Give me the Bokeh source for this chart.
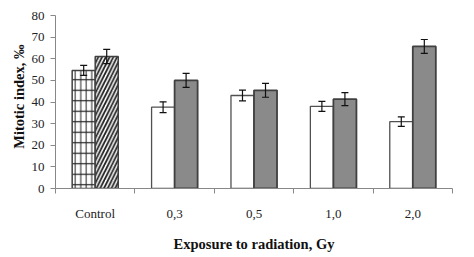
from bokeh.plotting import figure
from bokeh.models import FixedTicker, ColumnDataSource, Whisker, Range1d, Title
from bokeh.embed import file_html
from bokeh.resources import INLINE

categories = ["Control", "0,3", "0,5", "1,0", "2,0"]
series_a = [54.6, 37.6, 43.0, 38.0, 30.9]
err_a = [2.3, 2.5, 2.5, 2.3, 2.2]
series_b = [61.0, 50.0, 45.4, 41.3, 65.7]
err_b = [3.3, 3.2, 3.2, 3.0, 3.2]
y_ticks = [0, 10, 20, 30, 40, 50, 60, 70, 80]

BW = 0.29
centers = [i + 0.5 for i in range(len(categories))]
xa = [c - BW / 2 for c in centers]
xb = [c + BW / 2 for c in centers]

p = figure(width=474, height=257, output_backend="svg", toolbar_location=None,
           x_range=Range1d(0, len(categories)), y_range=Range1d(0, 80),
           min_border_left=55, min_border_right=22, min_border_top=15, min_border_bottom=69)
p.outline_line_color = None
p.grid.grid_line_color = None
p.background_fill_color = "white"
p.border_fill_color = "white"

OUT = "#404040"
# control bars (hatched)
p.vbar(x=[xa[0]], top=[series_a[0]], width=BW, fill_color="white", line_color=None,
       hatch_pattern="vertical_line", hatch_scale=5.5, hatch_color="#222222", hatch_weight=1)
p.vbar(x=[xa[0]], top=[series_a[0]], width=BW, fill_alpha=0, line_color=OUT, line_width=1.5,
       hatch_pattern="horizontal_line", hatch_scale=10.5, hatch_color="#222222", hatch_weight=1.2)
p.vbar(x=[xb[0]], top=[series_b[0]], width=BW, fill_color="white", line_color=OUT, line_width=1.5,
       hatch_pattern="right_diagonal_line", hatch_scale=7.5, hatch_color="#222222", hatch_weight=1.8)
# irradiated bars
p.vbar(x=xa[1:], top=series_a[1:], width=BW, fill_color="white", line_color="#505050", line_width=1.3)
p.vbar(x=xb[1:], top=series_b[1:], width=BW, fill_color="#8a8a8a", line_color=OUT, line_width=1.8)

src = ColumnDataSource(dict(
    x=xa + xb,
    lo=[v - e for v, e in zip(series_a, err_a)] + [v - e for v, e in zip(series_b, err_b)],
    hi=[v + e for v, e in zip(series_a, err_a)] + [v + e for v, e in zip(series_b, err_b)],
))
w = Whisker(base="x", lower="lo", upper="hi", source=src, line_color="#111111", line_width=1.2,
            level="overlay")
for h in (w.upper_head, w.lower_head):
    h.size = 7
    h.line_color = "#111111"
    h.line_width = 1.2
p.add_layout(w)

xt = FixedTicker(ticks=centers, minor_ticks=list(range(len(categories) + 1)))
p.xaxis.ticker = xt
p.xaxis.major_label_overrides = {c: lab for c, lab in zip(centers, categories)}
p.xaxis.major_tick_line_color = None
p.xaxis.minor_tick_line_color = "#888888"
p.xaxis.minor_tick_out = 5
p.xaxis.minor_tick_in = 0
p.xaxis.axis_line_color = "#888888"
p.xaxis.major_label_standoff = 11
p.xaxis.axis_label = "Exposure to radiation, Gy"
p.xaxis.axis_label_standoff = 12

p.yaxis.ticker = FixedTicker(ticks=y_ticks, minor_ticks=[])
p.yaxis.axis_line_color = "#888888"
p.yaxis.major_tick_line_color = "#888888"
p.yaxis.major_tick_out = 5
p.yaxis.major_tick_in = 0
p.yaxis.major_label_standoff = 6

for ax in (p.xaxis, p.yaxis):
    ax.major_label_text_font = "Liberation Serif"
    ax.major_label_text_font_size = "13px"
    ax.major_label_text_color = "#222222"
    ax.axis_label_text_font = "Liberation Serif"
    ax.axis_label_text_font_size = "14.5px"
    ax.axis_label_text_font_style = "bold"
    ax.axis_label_text_color = "#111111"

ytitle = Title(text="Mitotic index, ‰", align="right", offset=29, standoff=4,
               text_font="Liberation Serif", text_font_size="14.5px", text_font_style="bold",
               text_color="#111111")
p.add_layout(ytitle, "left")

open("out.html", "w").write(file_html(p, INLINE))
